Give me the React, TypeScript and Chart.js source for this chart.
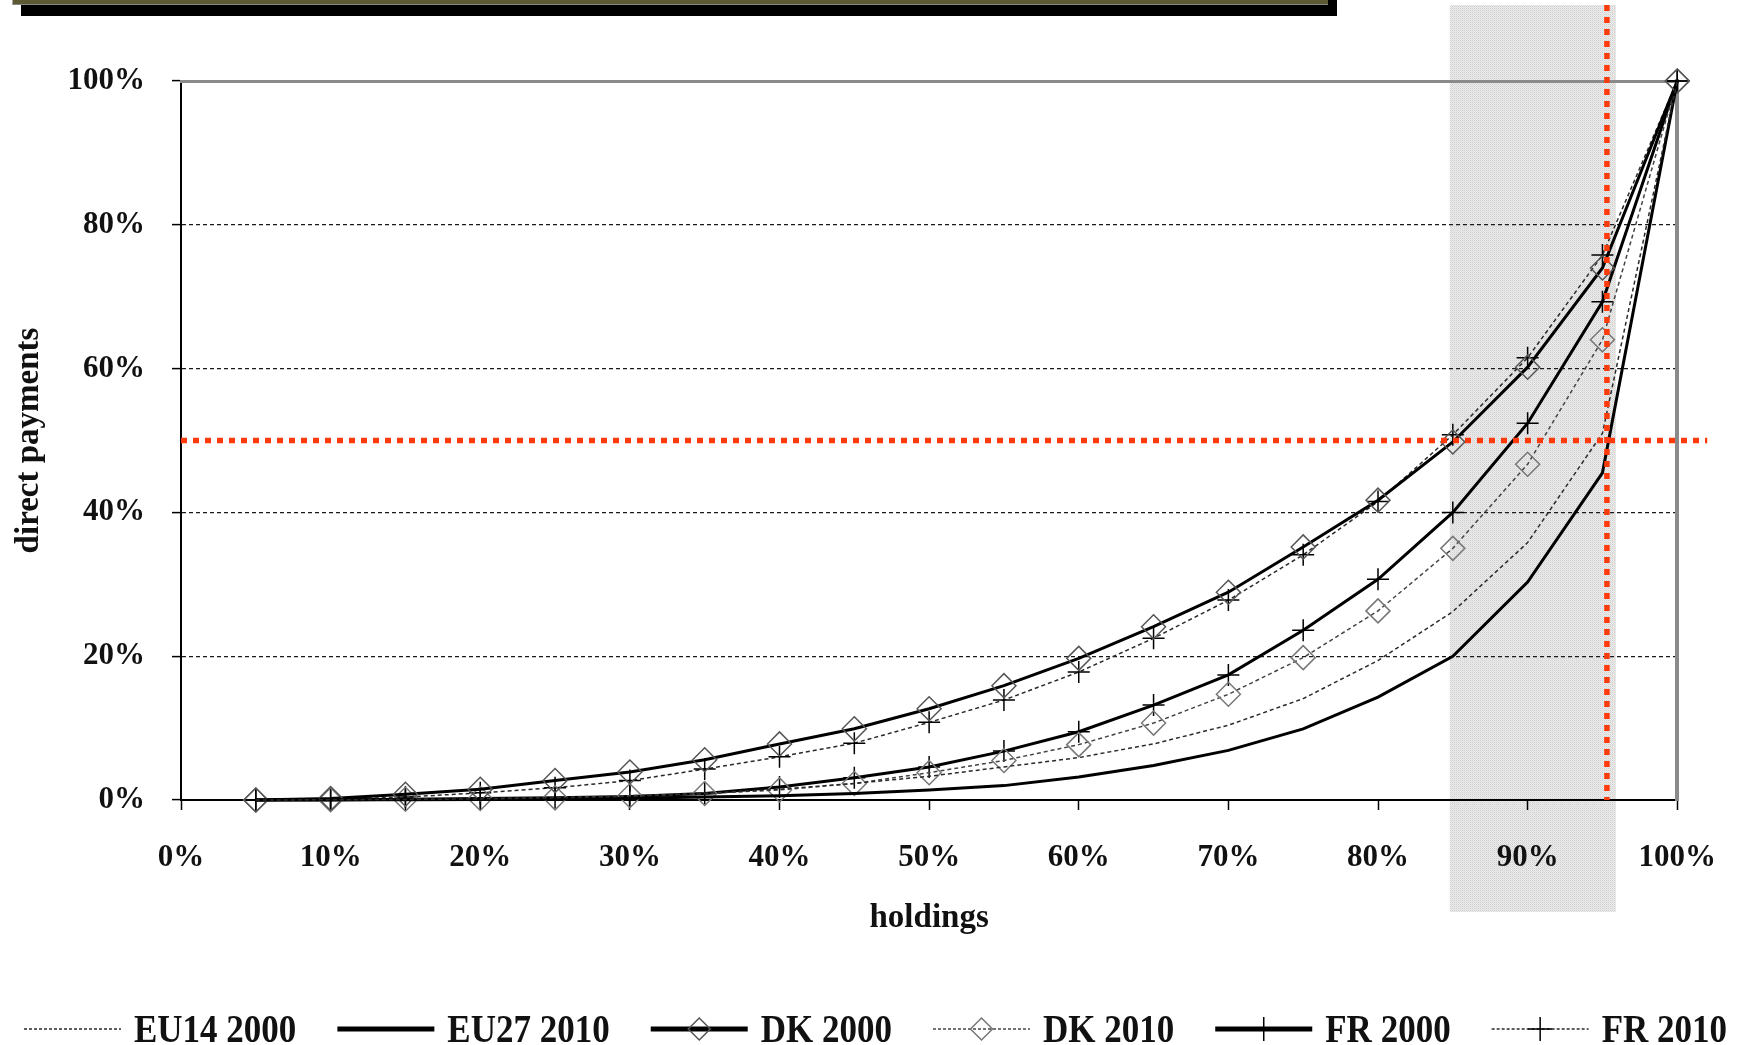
import React, { useEffect, useRef } from "react";
import { Chart, registerables } from "chart.js";

Chart.register(...registerables);

// ---------- data ----------
const holdings = [5, 10, 15, 20, 25, 30, 35, 40, 45, 50, 55, 60, 65, 70, 75, 80, 85, 90, 95, 100];

const seriesNames = ["EU14 2000", "EU27 2010", "DK 2000", "DK 2010", "FR 2000", "FR 2010"];

const eu14_2000 = [0, 0.03, 0.08, 0.15, 0.3, 0.5, 0.9, 1.5, 2.3, 3.3, 4.6, 5.9, 7.8, 10.4, 14.1, 19.4, 26.2, 35.8, 51, 100];
const eu27_2010 = [0, 0.02, 0.04, 0.08, 0.15, 0.25, 0.4, 0.6, 0.9, 1.4, 2.0, 3.2, 4.8, 6.9, 9.9, 14.3, 20, 30.3, 45.5, 100];
const dk_2000 = [0, 0.2, 0.8, 1.5, 2.7, 3.9, 5.6, 7.8, 9.9, 12.7, 15.9, 19.7, 24.1, 28.9, 35.2, 41.7, 49.8, 60.2, 74, 100];
const dk_2010 = [0, 0.05, 0.1, 0.2, 0.3, 0.6, 0.9, 1.4, 2.3, 3.8, 5.5, 7.7, 10.7, 14.7, 19.8, 26.3, 35, 46.7, 64, 100];
const fr_2000 = [0, 0, 0.1, 0.2, 0.3, 0.5, 0.9, 1.8, 3.1, 4.6, 6.8, 9.5, 13.2, 17.4, 23.6, 30.7, 40, 52.4, 69.3, 100];
const fr_2010 = [0, 0.1, 0.4, 1.0, 1.7, 2.7, 4.3, 6.0, 7.9, 10.8, 13.9, 17.8, 22.5, 27.8, 34.1, 41.5, 50.8, 61.5, 75.8, 100];

const xTickValues = [0, 10, 20, 30, 40, 50, 60, 70, 80, 90, 100];
const yTickValues = [0, 20, 40, 60, 80, 100];

const xTitle = "holdings";
const yTitle = "direct payments";

// highlighted band and reference lines (in data units)
const SHADE_FROM = 84.8;
const SHADE_TO = 95.9;
const REF_X = 95.3;
const REF_Y = 50;

// ---------- styles ----------
const FONT = "'Liberation Serif', 'Times New Roman', serif";
const W = 1745;
const H = 1045;

const seriesValues = [eu14_2000, eu27_2010, dk_2000, dk_2010, fr_2000, fr_2010];

const seriesStyles = [
  { color: "#2a2a2a", width: 1.5, dash: [4, 3], point: "none", pointColor: "#000" },
  { color: "#000000", width: 3, dash: [], point: "none", pointColor: "#000" },
  { color: "#000000", width: 3, dash: [], point: "rectRot", pointColor: "#555" },
  { color: "#444444", width: 1.5, dash: [4, 3], point: "rectRot", pointColor: "#777" },
  { color: "#000000", width: 3, dash: [], point: "cross", pointColor: "#000" },
  { color: "#2a2a2a", width: 1.5, dash: [4, 3], point: "cross", pointColor: "#000" },
];

function drawMarker(ctx: CanvasRenderingContext2D, style: string, x: number, y: number, r: number, color: string) {
  ctx.save();
  ctx.strokeStyle = color;
  ctx.lineWidth = 1.5;
  ctx.setLineDash([]);
  ctx.beginPath();
  if (style === "rectRot") {
    ctx.moveTo(x - r, y);
    ctx.lineTo(x, y - r);
    ctx.lineTo(x + r, y);
    ctx.lineTo(x, y + r);
    ctx.closePath();
  } else if (style === "cross") {
    ctx.moveTo(x - r, y);
    ctx.lineTo(x + r, y);
    ctx.moveTo(x, y - r);
    ctx.lineTo(x, y + r);
  }
  ctx.stroke();
  ctx.restore();
}

const shadePlugin = {
  id: "shadeBand",
  beforeDraw(chart: any) {
    const { ctx, scales, chartArea } = chart;
    const x1 = scales.x.getPixelForValue(SHADE_FROM);
    const x2 = scales.x.getPixelForValue(SHADE_TO);
    const top = 5;
    const bottom = chartArea.bottom + 112;
    const pc = document.createElement("canvas");
    pc.width = 2;
    pc.height = 2;
    const g = pc.getContext("2d")!;
    g.fillStyle = "#ececec";
    g.fillRect(0, 0, 2, 2);
    g.fillStyle = "#cfcfcf";
    g.fillRect(0, 0, 1, 1);
    g.fillStyle = "#dedede";
    g.fillRect(1, 1, 1, 1);
    ctx.save();
    ctx.fillStyle = ctx.createPattern(pc, "repeat") || "#e0e0e0";
    ctx.fillRect(x1, top, x2 - x1, bottom - top);
    ctx.restore();
  },
};

const refLinesPlugin = {
  id: "refLines",
  afterDatasetsDraw(chart: any) {
    const { ctx, scales, chartArea } = chart;
    const y = scales.y.getPixelForValue(REF_Y);
    const x = scales.x.getPixelForValue(REF_X);
    ctx.save();
    ctx.strokeStyle = "#ff3a0a";
    ctx.lineWidth = 5.5;
    ctx.setLineDash([6, 6]);
    ctx.beginPath();
    ctx.moveTo(chartArea.left, y);
    ctx.lineTo(chartArea.right + 30, y);
    ctx.stroke();
    ctx.beginPath();
    ctx.moveTo(x, 5);
    ctx.lineTo(x, chartArea.bottom);
    ctx.stroke();
    ctx.restore();
  },
};

const legendPlugin = {
  id: "customLegend",
  afterDraw(chart: any) {
    const { ctx } = chart;
    const yc = 1029;
    const lineLen = 97;
    let x = 24;
    ctx.save();
    ctx.font = `bold 35px ${FONT}`;
    ctx.textBaseline = "middle";
    ctx.textAlign = "left";
    ctx.fillStyle = "#111";
    chart.data.datasets.forEach((ds: any, i: number) => {
      const st = seriesStyles[i];
      ctx.save();
      ctx.strokeStyle = st.color;
      ctx.lineWidth = st.width >= 3 ? 5 : 1.5;
      ctx.setLineDash(st.dash.length ? [3, 2] : []);
      ctx.beginPath();
      ctx.moveTo(x, yc);
      ctx.lineTo(x + lineLen, yc);
      ctx.stroke();
      ctx.restore();
      if (st.point !== "none") drawMarker(ctx, st.point, x + lineLen / 2, yc, st.point === "cross" ? 12 : 11, st.pointColor);
      const tx = x + lineLen + 13;
      ctx.save();
      ctx.translate(tx, yc);
      ctx.scale(1, 1.15);
      ctx.fillText(ds.label, 0, 2);
      ctx.restore();
      x = tx + ctx.measureText(ds.label).width + 41;
    });
    ctx.restore();
  },
};

export default function App() {
  const ref = useRef<HTMLCanvasElement | null>(null);

  useEffect(() => {
    if (!ref.current) return;
    const datasets = seriesNames.map((name, i) => {
      const st = seriesStyles[i];
      return {
        label: name,
        data: holdings.map((h, j) => ({ x: h, y: seriesValues[i][j] })),
        borderColor: st.color,
        borderWidth: st.width,
        borderDash: st.dash,
        tension: 0,
        fill: false,
        clip: false,
        pointStyle: st.point === "none" ? "circle" : st.point,
        pointRadius: st.point === "none" ? 0 : st.point === "cross" ? 11 : 12,
        pointBorderColor: st.pointColor,
        pointBackgroundColor: "rgba(0,0,0,0)",
        pointBorderWidth: 1.5,
      };
    });

    const tickFont = { family: FONT, size: 31, weight: "bold" as const };
    const titleFont = { family: FONT, size: 33, weight: "bold" as const };

    const chart = new Chart(ref.current, {
      type: "line",
      data: { datasets },
      plugins: [shadePlugin, refLinesPlugin, legendPlugin],
      options: {
        responsive: false,
        animation: false,
        layout: { padding: { left: 0, right: 67, top: 81, bottom: 95 } },
        plugins: { legend: { display: false }, tooltip: { enabled: false } },
        scales: {
          x: {
            type: "linear",
            position: "bottom",
            min: 0,
            max: 100,
            afterBuildTicks: (s: any) => {
              s.ticks = xTickValues.map((v) => ({ value: v }));
            },
            afterFit: (s: any) => {
              s.height = 150;
            },
            ticks: {
              callback: (v: any) => `${v}%`,
              font: tickFont,
              color: "#111",
              padding: 29,
              maxRotation: 0,
              autoSkip: false,
            },
            grid: {
              drawOnChartArea: false,
              drawTicks: true,
              tickLength: 10,
              tickColor: "#000",
              tickWidth: 1.5,
            },
            border: { display: true, color: "#000", width: 2 },
            title: {
              display: true,
              text: xTitle,
              font: titleFont,
              color: "#111",
              padding: { top: 0, bottom: 12 },
            },
          },
          y: {
            type: "linear",
            position: "left",
            min: 0,
            max: 100,
            afterBuildTicks: (s: any) => {
              s.ticks = yTickValues.map((v) => ({ value: v }));
            },
            afterFit: (s: any) => {
              s.width = 181;
            },
            ticks: {
              callback: (v: any) => `${v}%`,
              font: tickFont,
              color: "#111",
              padding: 27,
              autoSkip: false,
            },
            grid: {
              drawOnChartArea: true,
              drawTicks: true,
              tickLength: 9,
              tickColor: "#000",
              tickWidth: 1.5,
              tickBorderDash: [],
              lineWidth: 1.2,
              color: (c: any) => (c.tick && (c.tick.value === 0 || c.tick.value === 100) ? "rgba(0,0,0,0)" : "#1a1a1a"),
            },
            border: { display: true, color: "#000", width: 2, dash: [4, 3] },
            title: {
              display: true,
              text: yTitle,
              font: titleFont,
              color: "#111",
              padding: { top: 10, bottom: 0 },
            },
          },
          x2: {
            type: "linear",
            position: "top",
            display: true,
            min: 0,
            max: 100,
            ticks: { display: false },
            grid: { display: false, drawOnChartArea: false, drawTicks: false },
            border: { display: true, color: "#8a8a8a", width: 3 },
            afterFit: (s: any) => {
              s.height = 0;
            },
          },
          y2: {
            type: "linear",
            position: "right",
            display: true,
            min: 0,
            max: 100,
            ticks: { display: false },
            grid: { display: false, drawOnChartArea: false, drawTicks: false },
            border: { display: true, color: "#8a8a8a", width: 4 },
            afterFit: (s: any) => {
              s.width = 0;
            },
          },
        },
      } as any,
    });
    return () => chart.destroy();
  }, []);

  return (
    <div style={{ position: "absolute", left: 0, top: 0, width: W, height: H, background: "#fff" }}>
      <canvas ref={ref} width={W} height={H} style={{ position: "absolute", left: 0, top: 0, width: W, height: H }} />
      <div style={{ position: "absolute", left: 21, top: 0, width: 1316, height: 16, background: "#000" }} />
      <div
        style={{
          position: "absolute",
          left: 12,
          top: 0,
          width: 1315,
          height: 4,
          background: "#5c5a35",
          borderLeft: "1px solid #aaa",
          borderBottom: "1px solid #888",
        }}
      />
    </div>
  );
}
